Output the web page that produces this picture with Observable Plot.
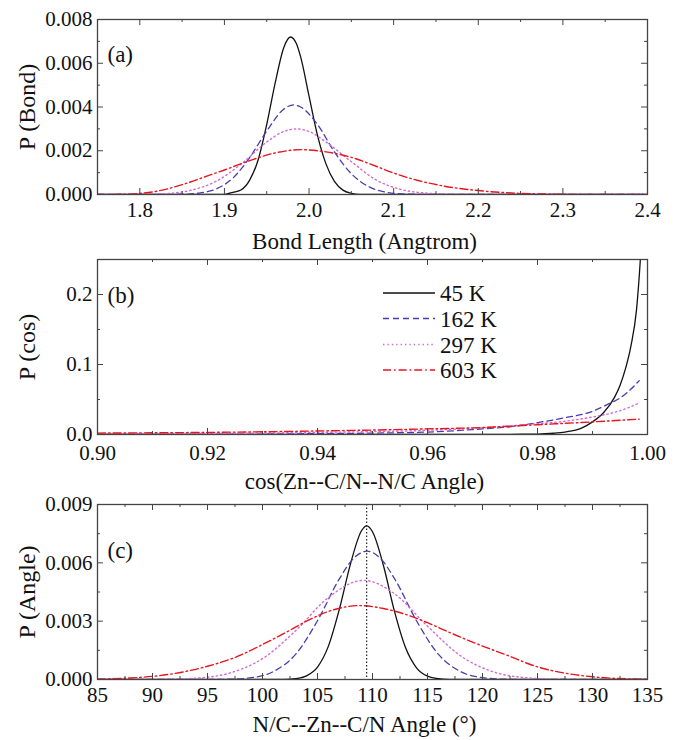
<!DOCTYPE html>
<html><head><meta charset="utf-8">
<script src="https://cdn.jsdelivr.net/npm/d3@7"></script>
<script src="https://cdn.jsdelivr.net/npm/@observablehq/plot@0.6"></script>
<style>
body{margin:0;background:#fff;}
#chart{width:682px;}
#chart svg{display:block;}
</style></head><body><div id="chart"></div>
<script>
// ---------- series ----------
const seriesNames = ["45 K", "162 K", "297 K", "603 K"];

// Panel (a): bond length distribution
const bond45X = [1.75,1.90,1.91,1.92,1.93,1.94,1.95,1.96,1.97,1.978,1.985,1.99,2.00,2.01,2.02,2.03,2.04,2.05,2.06,2.4];
const bond45Y = [0,0.00001,0.0001,0.00022,0.00067,0.0016,0.0032,0.0051,0.0067,0.0072,0.0069,0.0063,0.0045,0.0027,0.0014,0.0006,0.0002,0.00005,0,0];
const bond162X = [1.75,1.80,1.85,1.87,1.89,1.91,1.93,1.95,1.97,1.982,1.99,2.01,2.03,2.05,2.07,2.09,2.11,2.15,2.4];
const bond162Y = [0,0,0.000013,0.000066,0.00025,0.00075,0.0017,0.0029,0.0039,0.0041,0.0040,0.0032,0.00195,0.00095,0.00037,0.00011,0.00003,0,0];
const bond297X = [1.75,1.80,1.83,1.86,1.89,1.92,1.95,1.97,1.985,2.00,2.02,2.05,2.08,2.11,2.14,2.17,2.20,2.4];
const bond297Y = [0,0.000007,0.00004,0.00019,0.0006,0.0014,0.0024,0.00288,0.0030,0.00288,0.0024,0.0015,0.00065,0.00022,0.00006,0.00001,0,0];
const bond603X = [1.75,1.78,1.80,1.82,1.85,1.88,1.90,1.93,1.96,1.99,2.02,2.05,2.08,2.10,2.13,2.16,2.20,2.25,2.30,2.35,2.4];
const bond603Y = [0,0.00001,0.00005,0.00015,0.00045,0.00085,0.00112,0.00155,0.0019,0.00205,0.00195,0.0017,0.00128,0.00098,0.00063,0.00038,0.00018,0.00005,0.00001,0,0];

// Panel (b): cos distribution
const cos45X = [0.90,0.95,0.97,0.975,0.98,0.983,0.985,0.988,0.990,0.992,0.994,0.995,0.996,0.997,0.998,0.9987,0.999];
const cos45Y = [0,0.00002,0.0001,0.0003,0.0006,0.0018,0.0035,0.009,0.018,0.031,0.053,0.070,0.094,0.127,0.178,0.25,0.29];
const cos162X = [0.90,0.92,0.94,0.95,0.96,0.97,0.975,0.98,0.985,0.99,0.993,0.995,0.997,0.9985];
const cos162Y = [0,0.0003,0.0012,0.002,0.0035,0.008,0.011,0.017,0.024,0.033,0.044,0.052,0.065,0.077];
const cos297X = [0.90,0.92,0.94,0.96,0.97,0.98,0.985,0.99,0.995,0.9985];
const cos297Y = [0.0008,0.0015,0.003,0.006,0.0095,0.0155,0.019,0.025,0.034,0.045];
const cos603X = [0.90,0.92,0.94,0.96,0.97,0.98,0.99,0.9985];
const cos603Y = [0.002,0.003,0.005,0.008,0.010,0.014,0.018,0.022];

// Panel (c): angle distribution
const ang45X = [85,102,103,104,105,106,107,108,109,109.47,110,111,112,113,114,115,116,117,118,135];
const ang45Y = [0,0,0.00004,0.00019,0.00064,0.00173,0.00364,0.00595,0.00765,0.0079,0.0076,0.00585,0.0035,0.00164,0.0006,0.00017,0.00004,0.000006,0,0];
const ang162X = [85,95,97,99,101,103,105,107,108.3,109.5,110.7,112,114,116,118,120,122,124,135];
const ang162Y = [0,0.000002,0.000016,0.000094,0.00041,0.00129,0.00302,0.00519,0.00624,0.0066,0.00624,0.00519,0.00302,0.00129,0.00041,0.000094,0.000016,0.000002,0];
const ang297X = [85,91,94,97,100,103,106,109.2,112,115,118,121,124,127,130,135];
const ang297Y = [0,0.000011,0.00007,0.00033,0.00107,0.0025,0.00422,0.0051,0.00441,0.00274,0.00122,0.00039,0.000089,0.000015,0.000002,0];
const ang603X = [85,88,90,92,95,98,100,102,104,106,108.8,111,113,115,117,120,122,125,128,130,132,135];
const ang603Y = [0.00002,0.00008,0.00016,0.00031,0.00068,0.00125,0.0018,0.00238,0.0030,0.0035,0.0038,0.00365,0.00335,0.00292,0.00242,0.00172,0.0013,0.00065,0.00028,0.00014,0.00006,0.00001];
const tetrahedralAngle = [109.47];

// ---------- ticks ----------
const bondTicks = [1.8,1.9,2.0,2.1,2.2,2.3,2.4];
const bondMinor = [1.75,1.85,1.95,2.05,2.15,2.25,2.35];
const pBondTicks = [0,0.002,0.004,0.006,0.008];
const pBondMinor = [0.001,0.003,0.005,0.007];
const cosTicks = [0.90,0.92,0.94,0.96,0.98,1.00];
const cosMinor = [0.91,0.93,0.95,0.97,0.99];
const pCosTicks = [0,0.1,0.2];
const pCosMinor = [0.05,0.15];
const angTicks = [85,90,95,100,105,110,115,120,125,130,135];
const angMinor = [87.5,92.5,97.5,102.5,107.5,112.5,117.5,122.5,127.5,132.5];
const pAngTicks = [0,0.003,0.006,0.009];
const pAngMinor = [0.0015,0.0045,0.0075];

// ---------- styles ----------
const styles = [
  {stroke: "#111111", dash: null, width: 1.3},
  {stroke: "#4a3cb0", dash: "6,4", width: 1.3},
  {stroke: "#d36ad3", dash: "1.4,3", width: 1.4},
  {stroke: "#e8141e", dash: "8,3,1.6,3", width: 1.4}
];

const W = 682, ML = 97, MR = 35, IW = W - ML - MR, IH = 175;
const FONT = "'Liberation Serif', 'Times New Roman', serif";

function rows(xs, ys, name) { return xs.map((x, i) => ({x, y: ys[i], s: name})); }

function panel(cfg) {
  const H = cfg.top + IH + cfg.bottom;
  const marks = [];
  cfg.series.forEach((sr, i) => {
    const st = styles[i];
    marks.push(Plot.line(rows(sr[0], sr[1], seriesNames[i]), {
      x: "x", y: "y", stroke: st.stroke, strokeWidth: st.width,
      strokeDasharray: st.dash, curve: "monotone-x", clip: true
    }));
  });
  if (cfg.extra) marks.push(...cfg.extra);
  const tk = "#444";
  marks.push(
    Plot.tickX(cfg.xTicks, {x: d => d, insetTop: IH - 6, stroke: tk}),
    Plot.tickX(cfg.xTicks, {x: d => d, insetBottom: IH - 6, stroke: tk}),
    Plot.tickX(cfg.xMinor, {x: d => d, insetTop: IH - 3, stroke: tk}),
    Plot.tickX(cfg.xMinor, {x: d => d, insetBottom: IH - 3, stroke: tk}),
    Plot.tickY(cfg.yTicks, {y: d => d, insetRight: IW - 6, stroke: tk}),
    Plot.tickY(cfg.yTicks, {y: d => d, insetLeft: IW - 6, stroke: tk}),
    Plot.tickY(cfg.yMinor, {y: d => d, insetRight: IW - 3, stroke: tk}),
    Plot.tickY(cfg.yMinor, {y: d => d, insetLeft: IW - 3, stroke: tk}),
    Plot.axisX(cfg.xTicks, {tickSize: 0, tickPadding: cfg.xPad, tickFormat: cfg.xFormat,
      label: cfg.xLabel, labelAnchor: "center", labelOffset: cfg.xLabelOffset, labelArrow: "none"}),
    Plot.axisY(cfg.yTicks, {tickSize: 0, tickPadding: 5, tickFormat: cfg.yFormat,
      label: cfg.yLabel, labelAnchor: "center", labelOffset: 80, labelArrow: "none"}),
    Plot.frame({stroke: "#444", strokeWidth: 1.3}),
    Plot.text([cfg.tag], {text: d => d, frameAnchor: "top-left", dx: 10, dy: cfg.tagDy,
      textAnchor: "start", fontSize: 23, fill: "#111"})
  );
  const svg = Plot.plot({
    width: W, height: H,
    marginLeft: ML, marginRight: MR, marginTop: cfg.top, marginBottom: cfg.bottom,
    x: {domain: cfg.xDomain},
    y: {domain: cfg.yDomain},
    style: {fontFamily: FONT, fontSize: "21px", color: "#111", background: "#fff", overflow: "visible"},
    marks
  });
  d3.select(svg).selectAll('[aria-label="x-axis label"]').attr("font-size", 23)
    .attr("transform", function() { return (this.getAttribute("transform") || "") + " translate(-8,0)"; });
  d3.select(svg).selectAll('[aria-label="y-axis label"]').attr("font-size", 24);
  return svg;
}

const chart = document.getElementById("chart");

const svgA = panel({
  top: 19, bottom: 54, xPad: 8,
  series: [[bond45X, bond45Y], [bond162X, bond162Y], [bond297X, bond297Y], [bond603X, bond603Y]],
  xDomain: [1.75, 2.4], yDomain: [0, 0.008],
  xTicks: bondTicks, xMinor: bondMinor, yTicks: pBondTicks, yMinor: pBondMinor,
  xFormat: d3.format(".1f"), yFormat: d3.format(".3f"),
  xLabel: "Bond Length (Angtrom)", yLabel: "P (Bond)", xLabelOffset: 54,
  tag: "(a)", tagDy: 26
});
chart.appendChild(svgA);

const svgB = panel({
  top: 11, bottom: 59, xPad: 11,
  series: [[cos45X, cos45Y], [cos162X, cos162Y], [cos297X, cos297Y], [cos603X, cos603Y]],
  xDomain: [0.9, 1.0], yDomain: [0, 0.25],
  xTicks: cosTicks, xMinor: cosMinor, yTicks: pCosTicks, yMinor: pCosMinor,
  xFormat: d3.format(".2f"), yFormat: d3.format(".1f"),
  xLabel: "cos(Zn--C/N--N/C Angle)", yLabel: "P (cos)", xLabelOffset: 54,
  tag: "(b)", tagDy: 27
});
chart.appendChild(svgB);

// legend inside panel (b)
{
  const g = d3.select(svgB).append("g").attr("font-family", FONT).attr("font-size", 23)
    .attr("fill", "#111").attr("text-anchor", "start");
  const rowsY = [45, 70.5, 96.5, 122];
  seriesNames.forEach((name, i) => {
    const st = styles[i];
    g.append("line").attr("x1", 383).attr("x2", 435).attr("y1", rowsY[i]).attr("y2", rowsY[i])
      .attr("stroke", st.stroke).attr("stroke-width", st.width)
      .attr("stroke-dasharray", st.dash);
    g.append("text").attr("x", 440).attr("y", rowsY[i]).attr("dy", "0.35em").text(name);
  });
}

const svgC = panel({
  top: 11, bottom: 62, xPad: 8,
  series: [[ang45X, ang45Y], [ang162X, ang162Y], [ang297X, ang297Y], [ang603X, ang603Y]],
  xDomain: [85, 135], yDomain: [0, 0.009],
  xTicks: angTicks, xMinor: angMinor, yTicks: pAngTicks, yMinor: pAngMinor,
  xFormat: d3.format("d"), yFormat: d3.format(".3f"),
  xLabel: "N/C--Zn--C/N Angle (°)", yLabel: "P (Angle)", xLabelOffset: 52,
  tag: "(c)", tagDy: 37,
  extra: [Plot.ruleX(tetrahedralAngle, {x: d => d, stroke: "#111", strokeDasharray: "1.5,2", strokeWidth: 1.1})]
});
chart.appendChild(svgC);
</script>
</body></html>
